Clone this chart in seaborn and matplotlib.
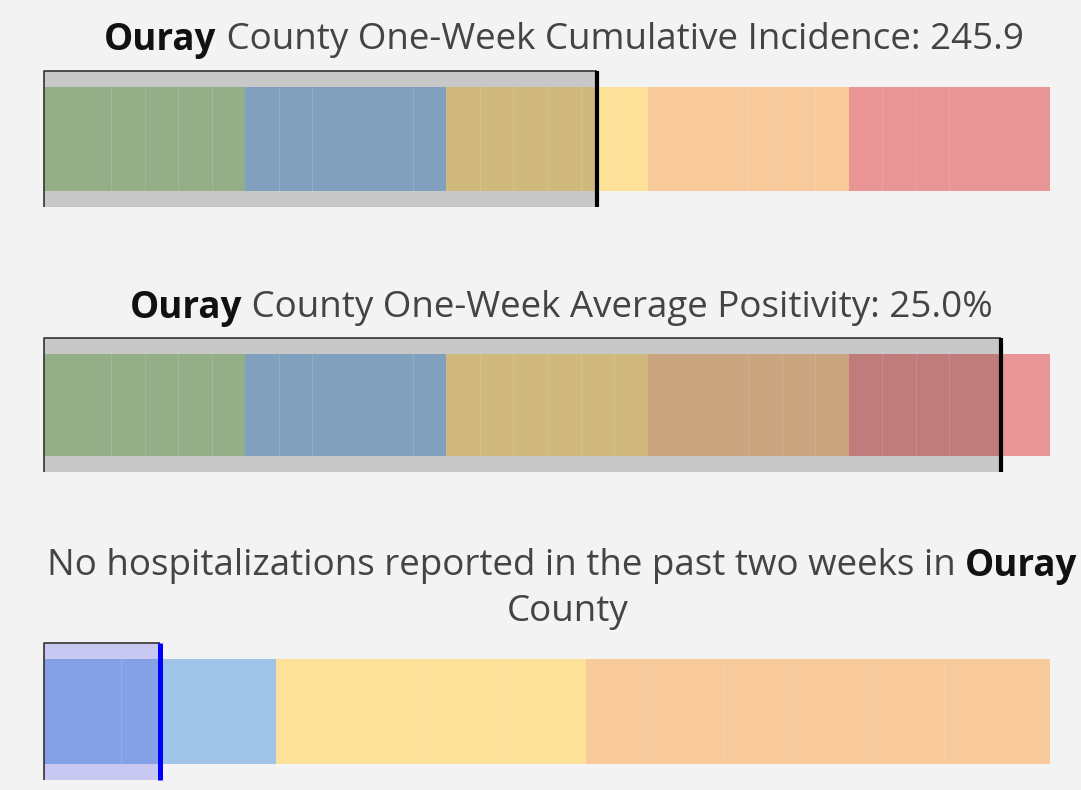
import numpy as np
import matplotlib
matplotlib.use("Agg")
import matplotlib.pyplot as plt
import matplotlib.colors as mcolors
import seaborn as sns

# gauge data (positions in the gauge's own axis units)
county = "Ouray"

incidence_label = "245.9"
incidence_range = 30
incidence_bands = [0, 6, 12, 18, 24, 30]
incidence_colors = ["#b4d3a5", "#9cc2e6", "#fee198", "#f7c99b", "#e99595"]
incidence_steps = [2, 3, 4, 5, 7, 8, 11, 13, 14, 15, 16, 17, 21, 22, 23, 25, 26, 27]
incidence_value = 16.5

positivity_label = "25.0%"
positivity_range = 30
positivity_bands = [0, 6, 12, 18, 24, 30]
positivity_colors = ["#b4d3a5", "#9cc2e6", "#fee198", "#f7c99b", "#e99595"]
positivity_steps = [2, 3, 4, 5, 7, 8, 11, 13, 14, 15, 16, 17, 21, 22, 23, 25, 26, 27]
positivity_value = 28.55

hosp_range = 13
hosp_bands = [0, 3, 7, 13]
hosp_colors = ["#a0c4e8", "#fee198", "#f7c99b"]
hosp_steps = [1, 5, 6, 7.87, 8.79, 9.74, 10.66, 11.63]
hosp_value = 1.5

BG = "#f3f3f3"
W, H = 1081, 790

sns.set_theme(style="white")
plt.rcParams["font.family"] = ["Open Sans", "DejaVu Sans"]

fig = plt.figure(figsize=(W / 100, H / 100), dpi=100, facecolor=BG)


def shade(color, overlay):
    # the value bar darkens whatever lies beneath it (multiply-like)
    c = np.array(mcolors.to_rgb(color))
    o = np.array(mcolors.to_rgb(overlay)) / np.array(mcolors.to_rgb(BG))
    return tuple(np.clip(c * o, 0, 1))


def gauge(top_px, bottom_px, rng, bands, colors, steps, value,
          bar_color, marker_color, marker_lw):
    ax = fig.add_axes([44 / W, 1 - bottom_px / H, (1050 - 44) / W, (bottom_px - top_px) / H])
    ax.set_facecolor(BG)
    ax.set_xlim(0, rng)
    ax.set_ylim(-0.5, 0.5)
    ax.axis("off")
    # value bar
    ax.barh(0, value, height=1.0, left=0, color=bar_color, linewidth=0)
    bh = 0.765
    for lo, hi, c in zip(bands[:-1], bands[1:], colors):
        if value > lo:
            ax.barh(0, min(hi, value) - lo, height=bh, left=lo,
                    color=shade(c, bar_color), linewidth=0)
        if value < hi:
            start = max(lo, value)
            ax.barh(0, hi - start, height=bh, left=start, color=c, linewidth=0)
    for s in steps:
        ax.plot([s, s], [-bh / 2, bh / 2], color="white", alpha=0.12, lw=0.8)
    # outline along top and left of the value bar
    ax.plot([0, 0, value], [-0.5, 0.5, 0.5], color="#333333", lw=1.2,
            clip_on=False, solid_capstyle="butt")
    ax.plot([value, value], [-0.5, 0.5], color=marker_color, lw=marker_lw,
            solid_capstyle="butt", clip_on=False)
    return ax


gauge(71, 207, incidence_range, incidence_bands, incidence_colors,
      incidence_steps, incidence_value, "#c8c8c8", "black", 3.0)
gauge(338, 472, positivity_range, positivity_bands, positivity_colors,
      positivity_steps, positivity_value, "#c8c8c8", "black", 3.0)
gauge(643, 780, hosp_range, hosp_bands, hosp_colors,
      hosp_steps, hosp_value, "#c8c8f2", "#0000ff", 3.6)

FS = 26.5
renderer = fig.canvas.get_renderer()


def title_line(y_px, parts, cx_px):
    texts = []
    for s, bold in parts:
        t = fig.text(0, 1 - y_px / H, s, fontsize=FS,
                     fontweight="bold" if bold else "normal",
                     color="#111111" if bold else "#444444",
                     va="center", ha="left")
        texts.append(t)
    widths = [t.get_window_extent(renderer).width for t in texts]
    x = cx_px - sum(widths) / 2
    for t, w in zip(texts, widths):
        t.set_x(x / W)
        x += w


title_line(40, [(county, True), (" County One-Week Cumulative Incidence: " + incidence_label, False)], 564)
title_line(308, [(county, True), (" County One-Week Average Positivity: " + positivity_label, False)], 561)
title_line(566, [("No hospitalizations reported in the past two weeks in ", False), (county, True)], 562)
title_line(612, [("County", False)], 568)

fig.savefig("out.png", dpi=100, facecolor=BG)
